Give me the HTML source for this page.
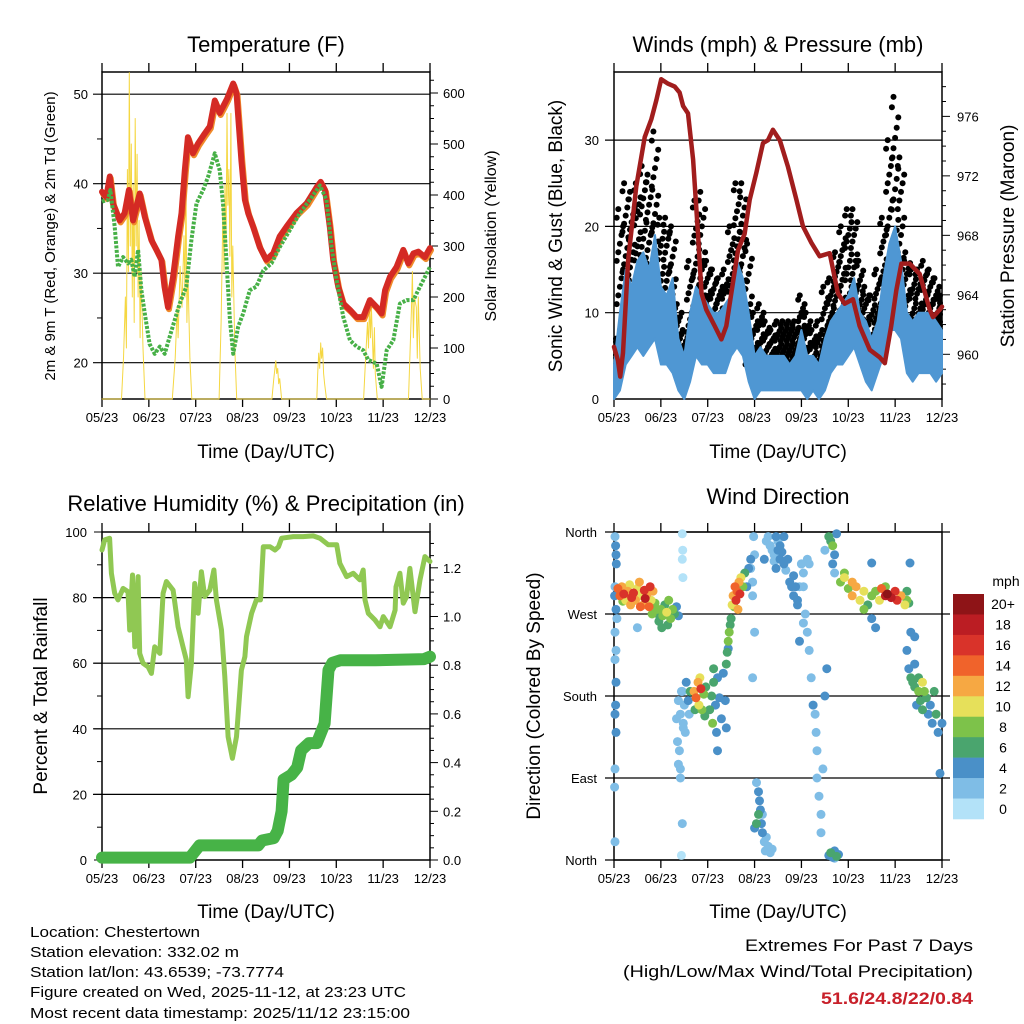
<!DOCTYPE html>
<html><head><meta charset="utf-8"><style>
html,body{margin:0;padding:0;background:#fff}
svg{display:block;font-family:"Liberation Sans",Arial,sans-serif}
</style></head><body>
<svg id="c" width="1024" height="1024" viewBox="0 0 1024 1024" xmlns="http://www.w3.org/2000/svg">
<g font-size="22" text-anchor="middle" fill="#000">
<text x="266" y="52">Temperature (F)</text>
<text x="778" y="52">Winds (mph) &amp; Pressure (mb)</text>
<text x="266" y="511">Relative Humidity (%) &amp; Precipitation (in)</text>
<text x="778" y="504">Wind Direction</text>
</g>
<g font-size="19" text-anchor="middle">
<text x="266" y="458">Time (Day/UTC)</text>
<text x="778" y="458">Time (Day/UTC)</text>
<text x="266" y="918">Time (Day/UTC)</text>
<text x="778" y="918">Time (Day/UTC)</text>
<text transform="translate(55,236) rotate(-90)" font-size="15">2m &amp; 9m T (Red, Orange) &amp; 2m Td (Green)</text>
<text transform="translate(496,236) rotate(-90)" font-size="16">Solar Insolation (Yellow)</text>
<text transform="translate(562,236) rotate(-90)">Sonic Wind &amp; Gust (Blue, Black)</text>
<text transform="translate(1014,236) rotate(-90)">Station Pressure (Maroon)</text>
<text transform="translate(47,696) rotate(-90)">Percent &amp; Total Rainfall</text>
<text transform="translate(540,696) rotate(-90)">Direction (Colored By Speed)</text>
</g>
<g font-size="15">
<text x="30" y="937" textLength="170" lengthAdjust="spacingAndGlyphs">Location: Chestertown</text>
<text x="30" y="957" textLength="209" lengthAdjust="spacingAndGlyphs">Station elevation: 332.02 m</text>
<text x="30" y="977" textLength="254" lengthAdjust="spacingAndGlyphs">Station lat/lon: 43.6539; -73.7774</text>
<text x="30" y="997" textLength="376" lengthAdjust="spacingAndGlyphs">Figure created on Wed, 2025-11-12, at 23:23 UTC</text>
<text x="30" y="1018" textLength="380" lengthAdjust="spacingAndGlyphs">Most recent data timestamp: 2025/11/12 23:15:00</text>
</g>
<g font-size="17">
<text x="745" y="951" textLength="228" lengthAdjust="spacingAndGlyphs">Extremes For Past 7 Days</text>
<text x="623" y="977" textLength="350" lengthAdjust="spacingAndGlyphs">(High/Low/Max Wind/Total Precipitation)</text>
<text x="821" y="1004" textLength="152" lengthAdjust="spacingAndGlyphs" font-weight="bold" fill="#c8202a">51.6/24.8/22/0.84</text>
</g>
<g id="layer"></g>
</svg>
<script>
// ---------- DATA ----------
const dayLabels = ["05/23","06/23","07/23","08/23","09/23","10/23","11/23","12/23"];
const tempHours = [0,2.2,4,5.6,9,11.6,13.8,15.9,19.3,21.9,25.3,27.9,30.4,32,33.8,36.4,39,40.7,42.4,44,46.6,49.2,52.6,55.2,57.8,60.3,62,64.1,67.2,68.9,71.4,73.2,74.9,77.4,80.8,84.1,87.7,91,94.5,99.6,104.8,109.9,112,114.2,116.7,118.4,121,123.6,127,130.4,133.8,137.2,140.7,143.2,145,147.5,150.9,154.3,156.9,159.5,162,165.4,168];
const tempValues = [39.1,38.5,40.8,37.8,35.9,36.7,39.3,35.9,38.9,36.3,33.7,32.6,31.5,28.5,26.2,29.6,34.1,36.7,41.5,45.2,43.4,44.5,45.6,46.4,49.3,47.9,48.6,49.5,51.2,50.1,42.6,38.2,36.7,35.2,32.9,31.5,32.2,34.1,35.2,36.7,37.8,39.6,40.2,39.3,35.2,31.5,28.5,26.6,25.9,25.1,25.1,27.0,26.2,25.5,28.1,29.6,30.7,32.6,31.1,32.2,32.4,31.8,32.8];
const dewHours = [0,3,4.3,6.5,8.2,10.8,13.3,15,16.7,18.5,20.2,21.9,24.4,27,29.6,32.1,34.7,37.3,39.8,43.2,45.8,48.4,51.8,54.4,57.8,60.3,62,63.7,65.5,67.2,69.7,72.3,75.7,79.1,82.6,86.8,91,96.2,101.3,106.5,111.6,115,117.6,120.2,123.6,127,130.4,133.8,136.4,140.7,143.2,145.8,149.2,152.6,156,159.5,162.9,168];
const dewValues = [38.0,38.2,39.3,35.2,30.7,31.8,31.1,31.5,29.6,32.6,28.1,25.5,22.1,21.0,21.8,21.0,22.9,24.8,26.6,28.5,33.7,37.8,39.3,40.8,43.4,41.5,37.8,31.5,24.8,21.0,24.0,25.5,28.1,28.5,30.3,31.1,32.9,34.8,36.7,38.2,39.8,38.2,32.9,29.2,25.1,22.5,21.8,21.4,20.3,19.9,17.3,21.4,22.5,26.6,27.0,27.0,28.5,30.7];
const solarHours = [0,10,11,12,12.5,13,13.5,14,14.5,15,15.5,16,16.5,17,17.5,18,18.5,19,19.5,20,21,22,36,37.5,38.5,39,40,41,42,42.5,43,43.5,44,45,46,60,61,62,62.5,63,63.5,64,64.5,65,65.5,66,66.5,67,68,69,87,88,89,89.5,90,90.5,91,92,110,110.5,111,111.5,112,112.5,113,113.5,114,115,134,135,136,136.5,137,137.5,138,139,139.5,140,141,157,158,158.5,159,159.5,160,161,161.5,162,163,164,168];
const solarValues = [0,0,80,200,100,450,250,640,300,500,200,420,150,550,300,480,200,350,120,250,100,0,0,80,180,120,260,180,320,200,430,150,250,80,0,0,150,380,250,420,300,560,380,450,280,560,200,300,100,0,0,40,75,50,60,30,40,0,0,50,90,60,110,80,100,50,30,0,0,80,150,100,190,120,180,60,140,50,0,0,120,180,250,120,200,180,80,200,60,0,0];
const windHours = [0,3,6,9,12,15,18,21,24,27,30,33,36,39,42,45,48,51,54,57,60,63,66,69,72,75,78,81,84,87,90,93,96,99,102,105,108,111,114,117,120,123,126,129,132,135,138,141,144,147,150,153,156,159,162,165,168];
const speedLo = [0,1,4,5,6,5,6,7,4,4,3,1,0,2,5,4,4,3,3,3,5,6,5,2,0,1,1,1,1,1,1,1,1,0,1,0,1,3,4,4,5,6,4,2,1,3,5,8,8,7,3,2,3,3,3,2,3];
const speedHi = [4,10,15,13,16,17,15,19,13,12,14,7,5,10,13,12,11,10,10,11,12,16,14,10,5,6,5,5,5,5,4,5,8,5,5,4,7,9,10,11,12,14,10,9,7,9,14,18,20,16,10,9,10,10,10,9,8];
const gustLo = [1,6,10,10,12,12,12,14,8,8,6,3,1,4,10,8,8,6,6,6,9,12,10,4,2,3,3,3,3,3,3,3,4,2,2,1,3,6,8,9,10,10,7,5,3,6,10,14,16,12,7,6,6,7,7,6,5];
const gustHi = [7,22,25,24,25,27,26,31,21,21,20,11,8,16,23,24,16,15,14,15,20,25,25,18,10,11,9,8,9,9,9,9,12,10,8,9,13,14,17,20,22,22,16,13,12,15,21,30,35,28,17,15,15,16,15,14,12];
const presHours = [0,2,3.2,4.6,7.2,11.4,15.7,19.1,21.7,24.2,27.7,31.1,33.6,35.4,37.9,40.5,43,44.8,47.3,51.6,55,57.5,60.1,63.5,66.9,69.5,72.9,76.3,78.9,81.4,84.9,89.1,93.4,96.8,101.1,105.3,110.5,114.7,118.1,122.4,125.8,131,136.1,138.7,142,144.6,147.2,151.4,156.6,161.7,163.4,166.8,168];
const presValues = [960.5,959.6,958.5,960.1,966.3,971.3,974.6,975.8,977.1,978.5,978.2,978.0,977.6,976.7,976.2,973.1,968.1,964.1,963.0,961.9,961.0,961.9,964.1,967.0,968.1,970.4,972.2,974.2,974.4,975.1,974.4,972.6,970.4,968.6,967.5,966.6,966.8,964.1,963.4,963.7,961.9,960.3,959.8,959.4,961.9,964.3,966.1,966.1,965.4,963.0,962.5,963.0,963.2];
const rhHours = [0,1.4,3.9,4.8,6.5,8.2,10.8,13.3,14.2,15.6,16.8,18.5,19.3,21,23.6,25.3,27,29.6,31.3,33,36.4,39,41.5,43.2,44.1,45.8,47.5,49.2,50.9,52.6,55.2,57.3,58.6,61.2,62.9,64.6,66.8,68.9,71.4,73.2,74,76.6,79.1,81.2,82.6,86.1,88.6,90.4,92,98,103,108.2,111.6,115.9,120.2,121.8,125.3,128.7,132.1,133.8,134.7,136.4,139.8,142.4,144.1,147.5,150.1,150.6,152.6,154.3,156,157.7,160.3,162.9,165.4,168];
const rhValues = [94.5,97.6,98.1,87.4,81.3,79.3,82.8,81.8,70.1,86.9,65,86.4,63,60,58.9,56.9,65,63,81.3,84.9,82.3,71.1,65,61,49.8,60,84.3,75.2,87.9,80.3,82.3,88.4,79.3,70.1,55.9,37.6,31,37.6,57.9,62,68.1,75.2,79.3,79.3,95.5,95.5,94.5,95.5,98.1,98.6,98.6,98.8,98.1,96.1,96.1,90.5,86.4,87.4,85.4,88.4,79.3,75.2,73.2,71.1,74.2,71.1,76.2,83.3,87.4,78.3,80.3,88.9,75.7,85.4,92.5,91];
const precipHours = [0,45,47,50,80,82,88,90,92,93,95,97,100,102,106,110,112,114,116,118,122,140,165,168];
const precipValues = [0.01,0.01,0.03,0.06,0.06,0.08,0.09,0.12,0.2,0.33,0.34,0.35,0.38,0.45,0.48,0.48,0.52,0.56,0.78,0.81,0.82,0.82,0.825,0.835];
const dirHours = [0.5,0.8,1,1.2,0.5,0.3,1,1.5,0.5,1,0.5,1,0.8,0.5,1,0.5,0.3,0.5,
 2,3,4,5,6,7,8,9,10,11,12,13,14,15,15.5,16,17,18,18.5,19,20,21,22,19.5,4.5,8.5,13.5,
 22.5,23,24,25,26,27,27.5,28,29,30,31,32,33,24.5,
 35,35.2,35,35.3,35,35.5,34,35,34.5,
 32,32.5,33,33.5,34,34.5,35.5,36,36.5,37,38,38.5,39,34,33,
 41,42,43,43.5,44,45,46,46.5,41.5,47,44.5,
 49,50,50.5,51,52,52.5,53,54,55,53,51,56,57,57.5,
 57.5,58,58.5,59,59.5,60,58.5,
 60.5,61,62,62.5,63,64,64.5,65,66,67,63.5,61.5,68,69,
 70,71,71,72,71,70,72,71.5,
 78,79,80,81,82,83,83,84,85,85,86,87,87,88,89,90,91,92,92,93,94,95,96,97,80,82,77,84,
 91,94,96,97,98,99,95,97,
 73,74,74.5,75,75.5,76,76,77,77.5,78,79,80,81,74,73,72,
 99,100,101,102,103,103.5,104,104,105,106,106,107,108,100,108,109,
 110,111,112,113,114,112,113,
 111,112,113,114,115,113,110,
 116,118,120,122,124,126,128,128,130,132,132,134,118,122,
 134,136,137,139,140,142,144,145,147,149,150,150,151,139,
 150,151,152,153,154,154,155,156,156,157,158,158,159,160,161,162,163,164,165,166,167,168,152,154,
 132,151.6,12];
const dirValues = [355,345,335,325,300,290,275,265,250,230,220,195,170,160,140,100,80,20,
 298,290,300,292,285,295,302,288,293,285,298,305,290,280,296,287,292,278,300,285,295,282,275,270,284,280,278,
 270,262,275,268,280,272,258,285,265,275,270,278,268,255,
 358,340,330,310,185,145,90,40,5,
 155,130,175,120,160,185,150,170,140,195,175,160,185,100,105,
 185,178,195,170,200,165,182,158,165,190,188,
 165,180,150,195,170,140,200,178,155,120,210,205,175,145,
 215,228,240,250,258,265,232,
 280,290,300,285,295,305,292,310,300,315,275,278,300,320,
 320,305,290,250,200,330,335,355,
 350,355,345,340,335,355,320,350,330,345,338,325,355,318,330,305,300,312,290,300,285,300,325,315,345,328,330,340,
 300,280,325,300,270,330,240,260,
 85,75,65,55,40,50,30,20,10,25,15,8,12,50,40,35,
 250,230,200,170,160,140,120,90,70,50,30,100,180,325,340,210,
 355,350,345,335,358,325,315,
 8,3,10,4,6,2,5,
 305,310,298,290,300,285,295,275,280,265,290,255,315,305,
 295,285,298,290,292,288,295,285,290,280,285,295,282,300,
 230,210,200,195,215,190,170,185,200,175,195,165,185,178,160,170,150,185,160,140,95,150,250,245,
 326,326,255];
const dirSpeeds = [2,4,4,4,3,4,4,3,2,2,2,4,4,4,4,2,2,2,
 15,14,12,16,10,12,11,16,17,12,10,13,11,12,16,18,13,14,17,10,12,9,8,9,8,12,14,
 7,6,8,9,7,10,6,8,9,8,6,5,4,6,
 1,1,1,1,2,2,2,2,1,
 3,3,2,3,2,2,2,3,2,4,4,2,6,3,2,
 12,14,13,10,11,8,9,7,7,6,16,
 6,7,8,6,4,5,4,4,4,4,6,4,4,4,
 6,7,8,8,7,7,5,
 10,12,14,16,15,12,17,10,9,6,13,8,4,4,
 3,2,2,2,2,4,2,2,
 2,3,3,2,3,4,4,3,4,4,4,4,4,3,4,4,4,4,4,5,4,2,2,2,2,2,4,4,
 4,4,2,2,2,3,4,2,
 3,4,4,4,4,2,4,2,2,2,2,2,2,6,6,4,
 2,2,3,4,3,2,2,2,2,2,2,2,4,3,2,4,
 6,6,8,4,5,4,3,
 6,4,4,6,4,2,4,
 8,10,9,13,12,11,10,8,6,4,8,4,9,12,
 8,10,14,18,20,18,17,16,12,10,8,6,6,8,
 4,4,6,6,4,6,4,8,6,6,10,6,8,6,4,4,4,6,6,4,4,4,4,4,
 4,4,2];
const cbLabels = ["20+","18","16","14","12","10","8","6","4","2","0"];
const cbColors = ["#8e1417","#bb1d23","#d9332a","#f0632b","#f6a843","#e6e05a","#7dc24a","#4aa56e","#4a90c8","#7fbde6","#b3e2f8"];

// ---------- DRAW ----------
const NS="http://www.w3.org/2000/svg";
const layer=document.getElementById('layer');
function mk(tag,attrs,parent){const e=document.createElementNS(NS,tag);for(const k in attrs)e.setAttribute(k,attrs[k]);(parent||layer).appendChild(e);return e;}
function xs(P,h){return P.x0+(h/168)*(P.x1-P.x0);}
const P1={x0:102,x1:430,y0:72,y1:399}, P2={x0:614,x1:942,y0:72,y1:399}, P3={x0:102,x1:430,y0:532,y1:860}, P4={x0:614,x1:942,y0:532,y1:860};
const yT=v=>362.7-(v-20)*8.95, yS=v=>399-v*0.51;
const yW=v=>399-v*8.63, yP=v=>354.3-(v-960)*14.87;
const yR=v=>860-v*3.28, yPr=v=>860-v*243.5;
const yD=v=>860-v*0.9111;

function frame(P,name){
  const g=mk('g',{});
  
  
  dayLabels.forEach((lab,i)=>{
    const x=xs(P,i*24);
    mk('line',{x1:x,x2:x,y1:P.y1,y2:P.y1+8,stroke:'#000','stroke-width':1.3},g);
    mk('line',{x1:x,x2:x,y1:P.y0,y2:P.y0-9,stroke:'#000','stroke-width':1.3},g);
    const t=mk('text',{x:x,y:P.y1+23,'font-size':13,'text-anchor':'middle'},g);
    
    
    t.textContent=lab;
  });
  return g;
}
function grid(P,y,g){mk('line',{x1:P.x0-9,x2:P.x1,y1:y,y2:y,stroke:'#000','stroke-width':1.2},g);}
function leftLab(g,x,y,s){const t=mk('text',{x:x,y:y+5,'font-size':13,'text-anchor':'end'},g);t.textContent=s;}
function rightLab(g,x,y,s){const t=mk('text',{x:x,y:y+5,'font-size':13,'text-anchor':'start'},g);t.textContent=s;}
function rtick(P,y,len,g){mk('line',{x1:P.x1,x2:P.x1+len,y1:y,y2:y,stroke:'#000','stroke-width':1},g);}
function box(P,g){mk('rect',{x:P.x0,y:P.y0,width:P.x1-P.x0,height:P.y1-P.y0,fill:'none',stroke:'#000','stroke-width':1.5},g);}
function line(pts,attrs,name){const e=mk('polyline',Object.assign({points:pts.map(p=>p[0].toFixed(1)+','+p[1].toFixed(1)).join(' '),fill:'none','stroke-linejoin':'round','stroke-linecap':'round'},attrs));return e;}

// Panel 1
let g=frame(P1,'temp');
[20,30,40,50].forEach(v=>{grid(P1,yT(v),g);leftLab(g,88,yT(v),v);});
[25,35,45].forEach(v=>mk('line',{x1:P1.x0-5,x2:P1.x0,y1:yT(v),y2:yT(v),stroke:'#000'},g));
for(let s=0;s<=625;s+=25){rtick(P1,yS(s),s%100===0?8:4,g);}
[0,100,200,300,400,500,600].forEach(s=>rightLab(g,443,yS(s),s));
line(solarHours.map((h,i)=>[xs(P1,h),Math.max(P1.y0,yS(solarValues[i]))]),{stroke:'#f5d742','stroke-width':1},'solar-line');
line(tempHours.map((h,i)=>[xs(P1,h)+1,yT(tempValues[i])+2]),{stroke:'#f08a2a','stroke-width':6},'temp-9m-line');
line(tempHours.map((h,i)=>[xs(P1,h),yT(tempValues[i])]),{stroke:'#d42a24','stroke-width':6},'temp-2m-line');
line(dewHours.map((h,i)=>[xs(P1,h),yT(dewValues[i])]),{stroke:'#47b047','stroke-width':4,'stroke-dasharray':'3 1.5','stroke-linecap':'butt'},'dewpoint-line');
box(P1,g);

// Panel 2
g=frame(P2,'winds');
[0,10,20,30].forEach(v=>{if(v>0)grid(P2,yW(v),g);leftLab(g,599,yW(v),v);});
for(let p=958;p<=978;p+=1){rtick(P2,yP(p),p%4===0?8:4,g);}
[960,964,968,972,976].forEach(p=>rightLab(g,957,yP(p),p));
const gustG=mk('g',{});


windHours.forEach((h,i)=>{
  const n=16;
  for(let k=0;k<=n;k++){
    const v=gustLo[i]+(gustHi[i]-gustLo[i])*k/n;
    const x=Math.min(P2.x1-2,Math.max(P2.x0+2,xs(P2,h)+((k%5)-2)*1.6));
    const c=mk('circle',{cx:x.toFixed(1),cy:yW(v).toFixed(1),r:3,fill:'#000'},gustG);
    
    
  }
});
const band=windHours.map((h,i)=>[xs(P2,h),yW(speedHi[i])]).concat(windHours.map((h,i)=>[xs(P2,h),yW(speedLo[i])]).reverse());
const sp=mk('polygon',{points:band.map(p=>p[0].toFixed(1)+','+p[1].toFixed(1)).join(' '),fill:'#4f97d3',stroke:'#4f97d3','stroke-width':2,'stroke-linejoin':'round'});


line(presHours.map((h,i)=>[xs(P2,h),yP(presValues[i])]),{stroke:'#a11d1d','stroke-width':4.5},'pressure-line');
box(P2,g);

// Panel 3
g=frame(P3,'rh');
[0,20,40,60,80,100].forEach(v=>{if(v>0&&v<100)grid(P3,yR(v),g);mk('line',{x1:P3.x0-8,x2:P3.x0,y1:yR(v),y2:yR(v),stroke:'#000'},g);leftLab(g,87,yR(v),v);});
[10,30,50,70,90].forEach(v=>mk('line',{x1:P3.x0-5,x2:P3.x0,y1:yR(v),y2:yR(v),stroke:'#000'},g));
for(let p=0;p<=1.32;p+=0.05){rtick(P3,yPr(p),Math.round(p*100)%20===0?8:4,g);}
["0.0","0.2","0.4","0.6","0.8","1.0","1.2"].forEach(s=>rightLab(g,443,yPr(parseFloat(s)),s));
line(rhHours.map((h,i)=>[xs(P3,h),yR(rhValues[i])]),{stroke:'#90c853','stroke-width':5},'rh-line');
line(precipHours.map((h,i)=>[xs(P3,h),yPr(precipValues[i])]),{stroke:'#47b347','stroke-width':12},'precip-line');
box(P3,g);

// Panel 4
g=frame(P4,'dir');
const dirNames=[[360,'North'],[270,'West'],[180,'South'],[90,'East'],[0,'North']];
dirNames.forEach(d=>{mk('line',{x1:P4.x0-9,x2:P4.x1+8,y1:yD(d[0]),y2:yD(d[0]),stroke:'#000','stroke-width':1.2},g);leftLab(g,597,yD(d[0]),d[1]);});
const dg=mk('g',{});


const order=dirSpeeds.map((s,i)=>i).sort((a,b)=>dirSpeeds[a]-dirSpeeds[b]);
order.forEach(i=>{
  const s=dirSpeeds[i];const ci=10-Math.min(10,Math.floor(s/2));
  const c=mk('circle',{cx:xs(P4,dirHours[i]).toFixed(1),cy:yD(dirValues[i]).toFixed(1),r:4.5,fill:cbColors[ci]},dg);
  
  
});
box(P4,g);
// colorbar
const cb=mk('g',{});


const cbh=225/cbLabels.length;
cbLabels.forEach((lab,i)=>{
  const r=mk('rect',{x:953,y:594+i*cbh,width:31,height:cbh+0.3,fill:cbColors[i]},cb);
  
  
  const t=mk('text',{x:1003,y:594+i*cbh+cbh/2+5,'font-size':14,'text-anchor':'middle'},cb);
  
  
  t.textContent=lab;
});
const mt=mk('text',{x:1006,y:586,'font-size':14,'text-anchor':'middle'},cb);


mt.textContent='mph';
</script>
</body></html>
